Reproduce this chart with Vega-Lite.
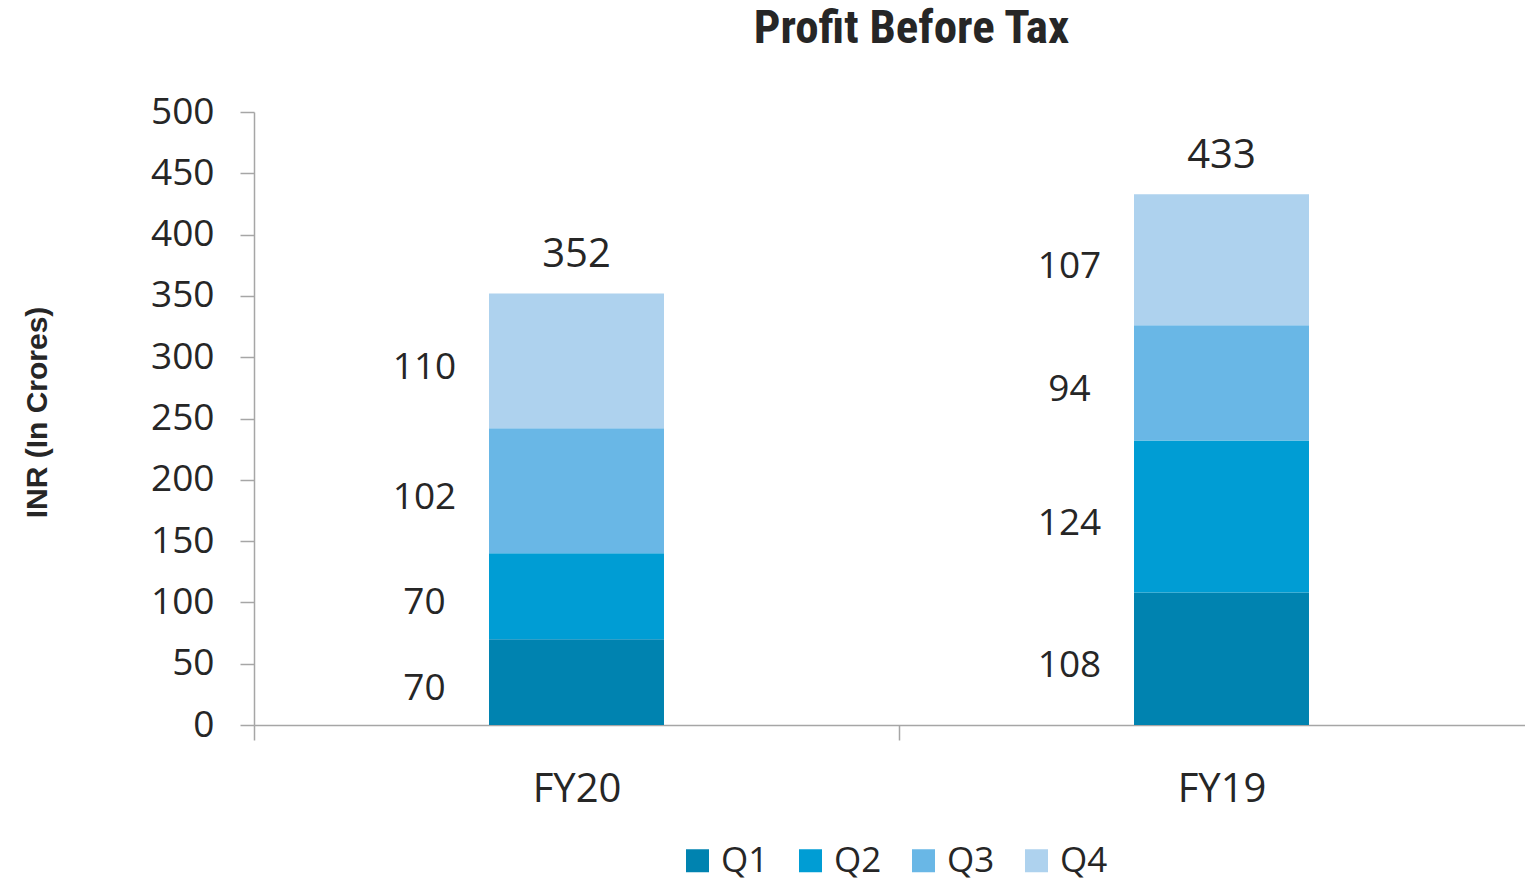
{
  "$schema": "https://vega.github.io/schema/vega-lite/v6.json",
  "width": 1271,
  "height": 613,
  "autosize": {"type": "none"},
  "padding": {"left": 254, "top": 112, "right": 0, "bottom": 157},
  "background": "white",
  "title": {
    "text": "Profit Before Tax",
    "font": "Liberation Sans Narrow, Roboto Condensed, Liberation Sans",
    "fontSize": 47,
    "fontWeight": "bold",
    "color": "#262626",
    "anchor": "middle",
    "offset": 40,
    "dx": 22
  },
  "data": {
    "values": [
      {"year": "FY20", "quarter": "Q1", "value": 70},
      {"year": "FY20", "quarter": "Q2", "value": 70},
      {"year": "FY20", "quarter": "Q3", "value": 102},
      {"year": "FY20", "quarter": "Q4", "value": 110},
      {"year": "FY19", "quarter": "Q1", "value": 108},
      {"year": "FY19", "quarter": "Q2", "value": 124},
      {"year": "FY19", "quarter": "Q3", "value": 94},
      {"year": "FY19", "quarter": "Q4", "value": 107}
    ]
  },
  "encoding": {
    "x": {
      "field": "year",
      "type": "nominal",
      "sort": ["FY20", "FY19"],
      "scale": {"range": [0, 1290], "paddingInner": 0, "paddingOuter": 0},
      "axis": {
        "title": null,
        "labelAngle": 0,
        "labelFont": "Open Sans",
        "labelFontSize": 40,
        "labelColor": "#262626",
        "labelPadding": 29,
        "tickBand": "extent",
        "tickSize": 15,
        "tickColor": "#A6A6A6",
        "domainColor": "#A6A6A6",
        "domainWidth": 1.5,
        "tickWidth": 1.5
      }
    }
  },
  "layer": [
    {
      "mark": {"type": "bar", "width": {"band": 0.2713}},
      "encoding": {
        "y": {
          "field": "value",
          "type": "quantitative",
          "stack": "zero",
          "scale": {"domain": [0, 500], "nice": false},
          "axis": {
            "values": [0, 50, 100, 150, 200, 250, 300, 350, 400, 450, 500],
            "grid": false,
            "labelFont": "Open Sans",
            "labelFontSize": 37,
            "labelColor": "#262626",
            "labelPadding": 26,
            "tickSize": 14,
            "tickColor": "#A6A6A6",
            "tickWidth": 1.5,
            "domainColor": "#A6A6A6",
            "domainWidth": 1.5,
            "title": "INR (In Crores)",
            "titleFont": "Liberation Sans",
            "titleFontSize": 30,
            "titleFontWeight": "bold",
            "titleColor": "#262626",
            "titleAngle": -90,
            "titleAlign": "center",
            "titleBaseline": "middle",
            "titleX": -217,
            "titleY": 300
          }
        },
        "color": {
          "field": "quarter",
          "type": "nominal",
          "scale": {
            "domain": ["Q1", "Q2", "Q3", "Q4"],
            "range": ["#0083B0", "#009DD4", "#69B7E6", "#AED2EE"]
          },
          "legend": {
            "title": null,
            "orient": "none",
            "direction": "horizontal",
            "legendX": 426,
            "legendY": 731,
            "symbolType": "square",
            "symbolSize": 529,
            "symbolStrokeWidth": 0,
            "symbolOpacity": 1,
            "labelFont": "Open Sans",
            "labelFontSize": 35,
            "labelColor": "#262626",
            "labelOffset": 6,
            "columnPadding": 24
          }
        },
        "order": {"field": "quarter", "sort": "ascending"}
      }
    },
    {
      "transform": [
        {"stack": "value", "groupby": ["year"], "sort": [{"field": "quarter", "order": "ascending"}], "as": ["v0", "v1"]},
        {"calculate": "(datum.v0 + datum.v1) / 2", "as": "mid"}
      ],
      "mark": {
        "type": "text",
        "font": "Open Sans",
        "fontSize": 37,
        "color": "#262626",
        "align": "center",
        "baseline": "middle",
        "dx": -152,
        "dy": 7
      },
      "encoding": {
        "y": {"field": "mid", "type": "quantitative"},
        "text": {"field": "value", "type": "quantitative"}
      }
    },
    {
      "transform": [
        {"aggregate": [{"op": "sum", "field": "value", "as": "total"}], "groupby": ["year"]}
      ],
      "mark": {
        "type": "text",
        "font": "Open Sans",
        "fontSize": 40,
        "color": "#262626",
        "align": "center",
        "baseline": "alphabetic",
        "dy": -26
      },
      "encoding": {
        "y": {"field": "total", "type": "quantitative"},
        "text": {"field": "total", "type": "quantitative"}
      }
    }
  ],
  "config": {
    "view": {"stroke": null}
  }
}
